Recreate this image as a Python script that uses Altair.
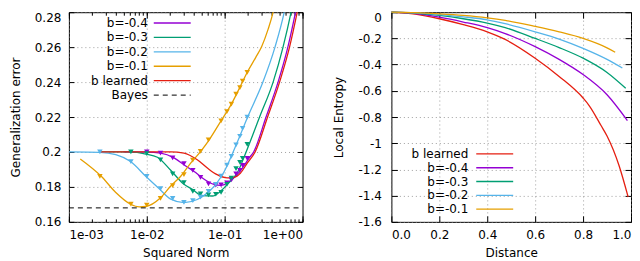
import altair as alt
import pandas as pd

FONT = "DejaVu Sans"
W1, W2, H = 234, 240, 210

# ---------------- Left panel: generalization error vs squared norm ----------------
series_left = ["b=-0.4", "b=-0.3", "b=-0.2", "b=-0.1", "b learned"]
series_colors = ["#9400d3", "#009e73", "#56b4e9", "#e69f00", "#e51e10"]

# theory curves
p04_x = [0.005, 0.0097, 0.0151, 0.0224, 0.0316, 0.0424, 0.054, 0.073, 0.089, 0.108, 0.138, 0.169, 0.205, 0.2355, 0.340, 0.485, 0.648, 0.813, 0.90]
p04_y = [0.2, 0.1999, 0.1993, 0.1966, 0.1920, 0.1882, 0.1845, 0.1814, 0.1809, 0.1822, 0.1861, 0.1908, 0.1964, 0.2000, 0.2200, 0.2400, 0.2600, 0.2800, 0.2900]

p03_x = [0.0025, 0.0062, 0.0097, 0.0137, 0.0203, 0.030, 0.0385, 0.0517, 0.0695, 0.089, 0.113, 0.145, 0.1886, 0.281, 0.419, 0.562, 0.713, 0.79]
p03_y = [0.2, 0.2, 0.1988, 0.1970, 0.1895, 0.1815, 0.1786, 0.1750, 0.1748, 0.1776, 0.1824, 0.1880, 0.2000, 0.2200, 0.2400, 0.2600, 0.2800, 0.2900]

p02_x = [0.001, 0.0025, 0.004, 0.0062, 0.0097, 0.014, 0.0203, 0.0301, 0.0445, 0.054, 0.066, 0.080, 0.098, 0.119, 0.145, 0.195, 0.31, 0.443, 0.582, 0.645]
p02_y = [0.2, 0.1998, 0.1985, 0.1945, 0.1861, 0.1795, 0.1730, 0.1710, 0.1728, 0.1750, 0.1782, 0.1825, 0.1885, 0.1965, 0.2055, 0.2195, 0.2400, 0.2600, 0.2800, 0.2900]

p01_x = [0.0014, 0.0026, 0.004, 0.0062, 0.008, 0.0097, 0.0148, 0.0203, 0.0273, 0.0366, 0.049, 0.063, 0.089, 0.122, 0.169, 0.195, 0.25, 0.30, 0.36, 0.419, 0.465]
p01_y = [0.196, 0.1861, 0.1768, 0.1701, 0.1686, 0.1688, 0.1735, 0.1805, 0.1861, 0.1936, 0.2002, 0.2068, 0.2175, 0.2274, 0.2400, 0.2456, 0.2540, 0.2605, 0.2700, 0.2800, 0.2900]

pbl_x = [0.0025, 0.0112, 0.0203, 0.030, 0.0445, 0.06, 0.08, 0.108, 0.132, 0.16, 0.195, 0.246, 0.356, 0.507, 0.681, 0.855, 0.95]
pbl_y = [0.2, 0.2, 0.2, 0.1993, 0.1955, 0.1908, 0.1870, 0.1852, 0.1855, 0.1880, 0.1936, 0.2000, 0.2200, 0.2400, 0.2600, 0.2800, 0.2900]

# simulation points
m04_x = [0.01, 0.015, 0.0215, 0.03, 0.039, 0.049, 0.062, 0.077, 0.09, 0.107, 0.122, 0.14, 0.157, 0.17, 0.195]
m04_y = [0.2, 0.1993, 0.1966, 0.1933, 0.1895, 0.1855, 0.1818, 0.1810, 0.1812, 0.1823, 0.1840, 0.1875, 0.1895, 0.1923, 0.1964]

m03_x = [0.00625, 0.01, 0.015, 0.0215, 0.03, 0.039, 0.049, 0.062, 0.077, 0.09, 0.107, 0.122, 0.14, 0.157, 0.17, 0.195]
m03_y = [0.2, 0.199, 0.1955, 0.1874, 0.1825, 0.1775, 0.1760, 0.1755, 0.1758, 0.1769, 0.1815, 0.1850, 0.1905, 0.1940, 0.1964, 0.2043]

m02_x = [0.0025, 0.00625, 0.01, 0.015, 0.0215, 0.03, 0.039, 0.049, 0.062, 0.077, 0.09, 0.107, 0.122, 0.14, 0.157, 0.17, 0.195]
m02_y = [0.2, 0.1945, 0.1861, 0.1790, 0.1735, 0.1712, 0.1722, 0.1742, 0.1775, 0.1815, 0.1862, 0.1925, 0.1975, 0.2040, 0.2090, 0.2135, 0.2199]

m01_x = [0.0025, 0.00625, 0.01, 0.015, 0.0215, 0.03, 0.039, 0.049, 0.062, 0.09, 0.107, 0.122, 0.14, 0.157, 0.17, 0.195]
m01_y = [0.1861, 0.1701, 0.1696, 0.1735, 0.1808, 0.1870, 0.1953, 0.2003, 0.2069, 0.2178, 0.2231, 0.2274, 0.2331, 0.2368, 0.2406, 0.2456]

bayes_x = [0.001, 1.0]
bayes_y = [0.168, 0.168]

x_major = [0.001, 0.01, 0.1, 1.0]
x_major_labels = ["1e-03", "1e-02", "1e-01", "1e+00"]
x_all = [0.001, 0.002, 0.003, 0.004, 0.005, 0.006, 0.007, 0.008, 0.009,
         0.01, 0.02, 0.03, 0.04, 0.05, 0.06, 0.07, 0.08, 0.09,
         0.1, 0.2, 0.3, 0.4, 0.5, 0.6, 0.7, 0.8, 0.9, 1.0]
y_left_ticks = [0.16, 0.18, 0.2, 0.22, 0.24, 0.26, 0.28]

legend_left_labels = ["b=-0.4", "b=-0.3", "b=-0.2", "b=-0.1", "b learned", "Bayes"]
legend_left_colors = ["#9400d3", "#009e73", "#56b4e9", "#e69f00", "#e51e10", "black"]

# ---------------- Right panel: local entropy vs distance ----------------
r_bl_x = [0.0, 0.1, 0.2, 0.3, 0.4, 0.475, 0.6, 0.7, 0.8, 0.826, 0.875, 0.9, 0.95, 0.988]
r_bl_y = [0.0, -0.015, -0.05, -0.095, -0.15, -0.208, -0.351, -0.49, -0.655, -0.714, -0.865, -0.945, -1.17, -1.41]
r04_x = [0.0, 0.1, 0.2, 0.3, 0.4, 0.475, 0.6, 0.7, 0.8, 0.9, 0.985]
r04_y = [0.0, -0.01, -0.038, -0.075, -0.118, -0.163, -0.263, -0.36, -0.476, -0.63, -0.827]
r03_x = [0.0, 0.1, 0.2, 0.3, 0.4, 0.475, 0.6, 0.7, 0.8, 0.9, 0.978]
r03_y = [0.0, -0.007, -0.025, -0.05, -0.083, -0.118, -0.2, -0.27, -0.351, -0.46, -0.581]
r02_x = [0.0, 0.1, 0.2, 0.3, 0.4, 0.475, 0.6, 0.7, 0.8, 0.9, 0.964]
r02_y = [0.0, -0.005, -0.018, -0.035, -0.058, -0.088, -0.15, -0.205, -0.276, -0.36, -0.426]
r01_x = [0.0, 0.1, 0.2, 0.3, 0.4, 0.475, 0.6, 0.7, 0.8, 0.9, 0.934]
r01_y = [0.0, -0.004, -0.013, -0.025, -0.043, -0.062, -0.108, -0.15, -0.2, -0.272, -0.306]

x_right_ticks = [0.0, 0.2, 0.4, 0.6, 0.8, 1.0]
y_right_ticks = [0.0, -0.2, -0.4, -0.6, -0.8, -1.0, -1.2, -1.4, -1.6]

legend_right_labels = ["b learned", "b=-0.4", "b=-0.3", "b=-0.2", "b=-0.1"]
legend_right_colors = ["#e51e10", "#9400d3", "#009e73", "#56b4e9", "#e69f00"]


def long(pairs):
    frames = []
    for name, xs, ys in pairs:
        frames.append(pd.DataFrame({"series": name, "x": xs, "y": ys}))
    return pd.concat(frames, ignore_index=True)


left_lines = long([("b=-0.4", p04_x, p04_y), ("b=-0.3", p03_x, p03_y),
                   ("b=-0.2", p02_x, p02_y), ("b=-0.1", p01_x, p01_y),
                   ("b learned", pbl_x, pbl_y)])
left_marks = long([("b=-0.4", m04_x, m04_y), ("b=-0.3", m03_x, m03_y),
                   ("b=-0.2", m02_x, m02_y), ("b=-0.1", m01_x, m01_y)])
bayes = pd.DataFrame({"x": bayes_x, "y": bayes_y})
right_lines = long([("b learned", r_bl_x, r_bl_y), ("b=-0.4", r04_x, r04_y),
                    ("b=-0.3", r03_x, r03_y), ("b=-0.2", r02_x, r02_y),
                    ("b=-0.1", r01_x, r01_y)])

color_scale = alt.Scale(domain=series_left, range=series_colors)
grid_kw = dict(grid=True, gridDash=[1, 3], gridColor="#888888", gridWidth=0.8)

xs_left = alt.Scale(type="log", domain=[0.001, 1.0], nice=False)
ys_left = alt.Scale(domain=[0.16, 0.28], nice=False, zero=False)
xs_right = alt.Scale(domain=[0.0, 1.0], nice=False)
ys_right = alt.Scale(domain=[-1.6, 0.0], nice=False)

x_label_expr = " : ".join(
    f"datum.value == {v} ? '{l}'" for v, l in zip(x_major[:-1], x_major_labels[:-1])
) + f" : '{x_major_labels[-1]}'"


def top_baseline(top_value):
    # keep the topmost label inside the page (the page margin leaves no room above)
    return {"condition": {"test": f"datum.value == {top_value}", "value": "top"}, "value": "middle"}


def tick_axis(orient, offset, values, size):
    return alt.Axis(orient=orient, offset=offset, values=values, labels=False,
                    domain=False, grid=False, ticks=True, tickSize=size,
                    tickColor="black", tickWidth=1, title=None, minExtent=0)


# ---- left layers
l_lines = alt.Chart(left_lines).mark_line(interpolate="monotone", strokeWidth=1.3, clip=True).encode(
    x=alt.X("x:Q", scale=xs_left, axis=alt.Axis(values=x_major, labelExpr=x_label_expr, ticks=False,
                                                domain=False, labelPadding=8, title="Squared Norm",
                                                titlePadding=7, **grid_kw)),
    y=alt.Y("y:Q", scale=ys_left, axis=alt.Axis(values=y_left_ticks, labelExpr="'' + datum.value",
                                                labelBaseline=top_baseline(0.28),
                                                ticks=False, domain=False, labelPadding=8,
                                                title="Generalization error", titlePadding=12, **grid_kw)),
    color=alt.Color("series:N", scale=color_scale, legend=None),
    detail="series:N",
)
l_marks = alt.Chart(left_marks).mark_point(shape="triangle-down", filled=True, size=30, opacity=1).encode(
    x=alt.X("x:Q", scale=xs_left, axis=tick_axis("top", -H, x_all, 3)),
    y=alt.Y("y:Q", scale=ys_left, axis=tick_axis("right", -W1, y_left_ticks, 5)),
    color=alt.Color("series:N", scale=color_scale, legend=None),
)
l_bayes = alt.Chart(bayes).mark_line(color="black", strokeWidth=1, strokeDash=[5, 4]).encode(
    x=alt.X("x:Q", scale=xs_left, axis=tick_axis("bottom", -H, x_all, 3)),
    y=alt.Y("y:Q", scale=ys_left, axis=tick_axis("left", -W1, y_left_ticks, 5)),
)
l_major_b = alt.Chart(bayes).mark_line(opacity=0).encode(
    x=alt.X("x:Q", scale=xs_left, axis=tick_axis("top", -H, x_major, 6)),
    y=alt.Y("y:Q", scale=ys_left, axis=None),
)
l_major_t = alt.Chart(bayes).mark_line(opacity=0).encode(
    x=alt.X("x:Q", scale=xs_left, axis=tick_axis("bottom", -H, x_major, 6)),
    y=alt.Y("y:Q", scale=ys_left, axis=None),
)

left_legend = []
for i, (lab, col) in enumerate(zip(legend_left_labels, legend_left_colors)):
    py = 10.8 + i * 14.45
    d = pd.DataFrame({"label": [lab]})
    left_legend.append(alt.Chart(d).mark_text(align="right", baseline="middle", font=FONT,
                                              fontSize=12, color="black").encode(
        x=alt.value(79), y=alt.value(py), text="label:N"))
    rule_kw = dict(color=col, strokeWidth=1.3)
    if lab == "Bayes":
        rule_kw = dict(color="black", strokeWidth=1, strokeDash=[5, 4])
    left_legend.append(alt.Chart(d).mark_rule(**rule_kw).encode(
        x=alt.value(85), x2=alt.value(122), y=alt.value(py)))

left = alt.layer(l_lines, l_marks, l_bayes, l_major_b, l_major_t, *left_legend).resolve_axis(
    x="independent", y="independent").properties(width=W1, height=H)

# ---- right layers
r_lines = alt.Chart(right_lines).mark_line(interpolate="monotone", strokeWidth=1.3).encode(
    x=alt.X("x:Q", scale=xs_right, axis=alt.Axis(values=x_right_ticks, format=".1f", ticks=False,
                                                 domain=False, labelPadding=8, title="Distance",
                                                 titlePadding=7, **grid_kw)),
    y=alt.Y("y:Q", scale=ys_right, axis=alt.Axis(values=y_right_ticks, labelExpr="'' + datum.value",
                                                 labelBaseline=top_baseline(0),
                                                 ticks=False, domain=False, labelPadding=10,
                                                 title="Local Entropy", titlePadding=13, **grid_kw)),
    color=alt.Color("series:N", scale=color_scale, legend=None),
    detail="series:N",
)
r_ticks1 = alt.Chart(right_lines).mark_line(opacity=0).encode(
    x=alt.X("x:Q", scale=xs_right, axis=tick_axis("top", -H, x_right_ticks, 6)),
    y=alt.Y("y:Q", scale=ys_right, axis=tick_axis("right", -W2, y_right_ticks, 6)),
    detail="series:N",
)
r_ticks2 = alt.Chart(right_lines).mark_line(opacity=0).encode(
    x=alt.X("x:Q", scale=xs_right, axis=tick_axis("bottom", -H, x_right_ticks, 6)),
    y=alt.Y("y:Q", scale=ys_right, axis=tick_axis("left", -W2, y_right_ticks, 6)),
    detail="series:N",
)

right_legend = []
for i, (lab, col) in enumerate(zip(legend_right_labels, legend_right_colors)):
    py = 142.0 + i * 13.8
    d = pd.DataFrame({"label": [lab]})
    right_legend.append(alt.Chart(d).mark_text(align="right", baseline="middle", font=FONT,
                                               fontSize=12, color="black").encode(
        x=alt.value(77), y=alt.value(py), text="label:N"))
    right_legend.append(alt.Chart(d).mark_rule(color=col, strokeWidth=1.3).encode(
        x=alt.value(85), x2=alt.value(122), y=alt.value(py)))

right = alt.layer(r_lines, r_ticks1, r_ticks2, *right_legend).resolve_axis(
    x="independent", y="independent").properties(width=W2, height=H)

chart = alt.hconcat(left, right, spacing=26).properties(
    padding={"left": 0, "top": 0, "right": 0, "bottom": 0},
    background="white",
).configure_view(stroke="black", strokeWidth=1).configure_axis(
    labelFont=FONT, labelFontSize=12, labelColor="black",
    titleFont=FONT, titleFontSize=12, titleFontWeight="normal", titleColor="black",
)

chart.save("out.html", embed_options={"renderer": "svg", "actions": False})
